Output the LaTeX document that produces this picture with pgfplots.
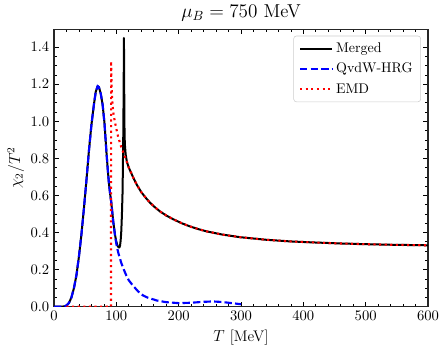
\documentclass[border=0pt]{standalone}
\usepackage{pgfplots}
\pgfplotsset{compat=1.18}

\pgfplotstableread{
T chi
0 0
10 0
16 0.001
20 0.006
24 0.02
28 0.05
32 0.10
36 0.17
40 0.27
44 0.39
48 0.53
52 0.68
56 0.84
60 0.98
64 1.09
67 1.16
70 1.19
72 1.185
75 1.15
78 1.09
81 0.99
84 0.84
86 0.75
88 0.67
90 0.61
92 0.56
95 0.46
98 0.38
101 0.32
104 0.28
108 0.235
112 0.20
116 0.168
120 0.142
127 0.112
135 0.082
143 0.060
150 0.049
165 0.033
180 0.024
200 0.019
220 0.021
240 0.026
255 0.028
270 0.025
285 0.019
300 0.013
}\hrg

\pgfplotstableread{
T chi
0 0
10 0
16 0.001
20 0.006
24 0.02
28 0.05
32 0.10
36 0.17
40 0.27
44 0.39
48 0.53
52 0.68
56 0.84
60 0.98
64 1.09
67 1.16
70 1.19
72 1.185
75 1.15
78 1.09
81 0.99
84 0.84
86 0.75
88 0.67
90 0.61
92 0.56
95 0.46
98 0.385
100 0.35
102 0.328
104 0.319
105 0.32
106 0.33
107 0.36
108 0.41
109 0.50
110 0.62
111 0.88
111.7 1.15
112.2 1.45
112.6 1.20
113.0 0.98
113.6 0.88
115 0.82
117 0.78
120 0.75
124 0.72
128 0.69
133 0.657
140 0.618
147 0.588
154 0.561
162 0.536
170 0.514
180 0.492
191 0.472
205 0.450
218 0.433
232 0.418
245 0.406
270 0.389
298 0.375
340 0.361
379 0.352
420 0.346
459 0.341
500 0.337
539 0.334
600 0.331
}\merged

\pgfplotstableread{
T chi
20 0
91.5 0
91.6 1.325
92.3 1.20
93.5 1.11
95 1.05
97.5 1.00
100 0.96
103 0.915
108 0.86
113 0.815
117 0.78
120 0.75
124 0.72
128 0.69
133 0.657
140 0.618
147 0.588
154 0.561
162 0.536
170 0.514
180 0.492
191 0.472
205 0.450
218 0.433
232 0.418
245 0.406
270 0.389
298 0.375
340 0.361
379 0.352
420 0.346
459 0.341
500 0.337
539 0.334
600 0.331
}\emd

\begin{document}
\begin{tikzpicture}
\begin{axis}[
  scale only axis, width=280.5pt, height=207.75pt,
  xmin=0, xmax=600, ymin=0, ymax=1.495,
  xtick={0,100,...,600}, ytick={0,0.2,...,1.4},
  minor x tick num=4, minor y tick num=3,
  tick align=inside, xtick pos=both, ytick pos=both,
  major tick length=3.4pt, minor tick length=2pt,
  every tick/.style={black, line width=0.5pt},
  axis line style={line width=0.8pt, black!85},
  yticklabel style={/pgf/number format/fixed, /pgf/number format/fixed zerofill, /pgf/number format/precision=1},
  tick label style={font=\fontsize{11}{13}\selectfont},
  xlabel={$T$ [MeV]}, ylabel={$\chi_2/T^2$},
  label style={font=\fontsize{11.5}{14}\selectfont},
  ylabel style={yshift=-2pt},
  title={$\mu_B = 750$ MeV}, title style={font=\fontsize{14}{16}\selectfont, yshift=-3pt},
  legend style={at={(0.981,0.978)}, anchor=north east, draw=black!20, rounded corners=2pt,
    font=\fontsize{10.5}{13}\selectfont, row sep=2.5pt, inner xsep=4pt, inner ysep=3pt},
  legend cell align=left,
  legend image code/.code={\draw[#1] (0cm,0cm) -- (0.85cm,0cm);},
]
\addplot[black, line width=1.5pt, line join=round] table[x=T, y=chi] {\merged};
\addplot[blue, line width=1.6pt, dash pattern=on 5.5pt off 2.4pt] table[x=T, y=chi] {\hrg};
\addplot[red, line width=1.6pt, line cap=butt, dash pattern=on 1.6pt off 2.6pt] table[x=T, y=chi] {\emd};
\legend{Merged, QvdW-HRG, EMD}
\end{axis}
\path (-40.5pt,-36pt) rectangle (295.5pt,229.5pt);
\end{tikzpicture}
\end{document}
